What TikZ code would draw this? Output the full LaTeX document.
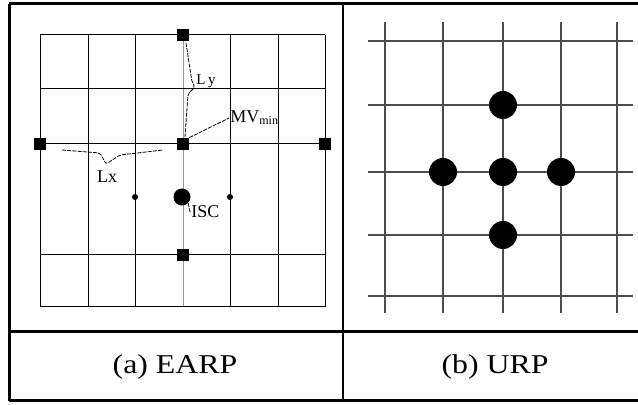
\documentclass[tikz,border=0pt]{standalone}
\usepackage{fontspec}
\setmainfont{Liberation Serif}

\begin{document}
\begin{tikzpicture}[x=0.5pt,y=-0.5pt]
\tikzset{
  sq/.style={fill=black,minimum size=6pt,inner sep=0pt},
  gdot/.style={circle,fill=black,inner sep=0pt,minimum size=#1},
  lbl/.style={font=\fontsize{9}{10}\selectfont,inner sep=0.5pt},
  captxt/.style={font=\fontsize{13.6}{16}\selectfont,xscale=1.17},
  lead/.style={line width=0.4pt,dash pattern=on 2pt off 0.6pt},
  frame/.style={line width=1.5pt}
}
\useasboundingbox (0,0) rectangle (638,405);

% table
\draw[frame] (9,4)--(638,4);
\draw[frame] (9,332)--(638,332);
\draw[frame] (9,401)--(638,401);
\draw[frame] (9,4)--(9,401);
\draw[line width=1.1pt] (343,4)--(343,401);

% (a) grid
\foreach \x in {40,88,135,230,278,325}
  \draw[line width=0.5pt] (\x,35)--(\x,307);
\draw[line width=0.5pt,black!40] (183,35)--(183,307);
\foreach \y in {35,89,144,255,307}
  \draw[line width=0.5pt] (40,\y)--(325,\y);

\node[sq] (top) at (183,35) {};
\node[sq] (lft) at (40,144) {};
\node[sq] (ctr) at (183,144) {};
\node[sq] (rgt) at (325,144) {};
\node[sq] (bot) at (183,255) {};
\node[gdot=8.5pt] (isc) at (182,197) {};
\node[gdot=3pt] (pl) at (135,197) {};
\node[gdot=3pt] (pr) at (230,197) {};

% braces
\draw[lead,rounded corners=1pt] (62,150)--(100,153)--(106,164)--(120,155)--(163,150);
\draw[lead,rounded corners=1pt] (186,43)--(192,82)--(195,87)--(188,94)--(185,137);

\node[lbl] (lx) at (107,177) {Lx};
\node[lbl,font=\fontsize{7.5}{8}\selectfont] (ly) at (206,81) {L\,y};
\node[lbl,anchor=west] (mv) at (229,118) {MV\textsubscript{min}};
\node[lbl,anchor=west] (iscl) at (190,212) {ISC};
\draw[lead] (ctr.north east) -- (mv.west);
\draw[lead] (isc.south east) -- (iscl.west);

% (b) grid
\foreach \x in {385,443,503,561,617}
  \draw[line width=1.3pt,black!70] (\x,22)--(\x,313);
\foreach \y in {41,105,172,235,296}
  \draw[line width=1.3pt,black!70] (368,\y)--(633,\y);
\node[gdot=14pt] (u1) at (503,105) {};
\node[gdot=14pt] (u2) at (443,172) {};
\node[gdot=14pt] (u3) at (503,172) {};
\node[gdot=14pt] (u4) at (561,172) {};
\node[gdot=14pt] (u5) at (503,235) {};

% captions
\node[captxt] (capa) at (175,367) {(a) EARP};
\node[captxt] (capb) at (495,367) {(b) URP};
\end{tikzpicture}
\end{document}
